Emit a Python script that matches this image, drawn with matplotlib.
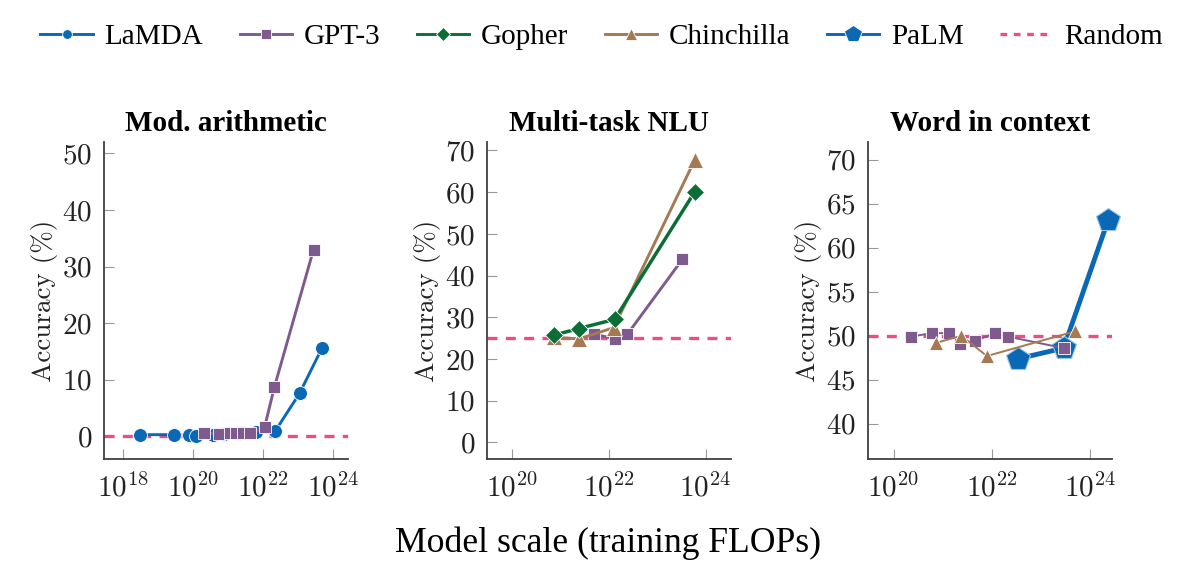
import matplotlib
matplotlib.use('Agg')
import matplotlib.pyplot as plt
from matplotlib.ticker import FixedLocator, LogFormatterMathtext, NullLocator

plt.rcParams['font.family'] = 'cmr10'
plt.rcParams['mathtext.fontset'] = 'cm'
plt.rcParams['axes.unicode_minus'] = False
plt.rcParams['axes.formatter.use_mathtext'] = True

# colours
c_lamda = '#0a68b4'
c_gpt3 = '#7e5a8f'
c_gopher = '#0b6e37'
c_chin = '#a57953'
c_palm = '#0a68b4'
c_rand = '#ef4c85'

# --- Mod. arithmetic ---
arith_lamda_x = [10**18.5, 10**19.45, 10**19.9, 10**20.1, 10**20.57, 10**20.9,
                 10**21.35, 10**21.8, 10**22.35, 10**23.05, 10**23.7]
arith_lamda_y = [0.3, 0.3, 0.2, 0.1, 0.3, 0.4, 0.6, 0.7, 0.9, 7.6, 15.7]
arith_gpt3_x = [10**20.33, 10**20.76, 10**21.05, 10**21.24, 10**21.43, 10**21.62,
                10**22.05, 10**22.33, 10**23.45]
arith_gpt3_y = [0.6, 0.5, 0.6, 0.6, 0.6, 0.6, 1.6, 8.7, 33.0]

# --- Multi-task NLU ---
mmlu_gpt3_x = [10**21.69, 10**22.12, 10**22.38, 10**23.52]
mmlu_gpt3_y = [25.9, 24.9, 25.9, 43.9]
mmlu_gopher_x = [10**20.86, 10**21.38, 10**22.12, 10**23.77]
mmlu_gopher_y = [25.7, 27.3, 29.5, 60.0]
mmlu_chin_x = [10**20.86, 10**21.38, 10**22.1, 10**23.77]
mmlu_chin_y = [25.2, 24.8, 27.5, 67.6]

# --- Word in context ---
wic_gpt3_x = [10**20.35, 10**20.78, 10**21.12, 10**21.35, 10**21.65, 10**22.06,
              10**22.33, 10**23.46]
wic_gpt3_y = [49.9, 50.3, 50.3, 49.1, 49.4, 50.3, 49.9, 48.6]
wic_chin_x = [10**20.87, 10**21.38, 10**21.9, 10**23.69]
wic_chin_y = [49.2, 50.0, 47.7, 50.5]
wic_palm_x = [10**22.54, 10**23.46, 10**24.37]
wic_palm_y = [47.4, 48.6, 63.2]

rand_levels = [0, 25, 50]
titles = ['Mod. arithmetic', 'Multi-task NLU', 'Word in context']
xlims = [(10**17.46, 10**24.43), (10**19.48, 10**24.52), (10**19.48, 10**24.44)]
ylims = [(-4, 52), (-4, 72), (36, 72)]
yticks = [[0, 10, 20, 30, 40, 50], [0, 10, 20, 30, 40, 50, 60, 70],
          [40, 45, 50, 55, 60, 65, 70]]
xticks = [[1e18, 1e20, 1e22, 1e24], [1e20, 1e22, 1e24], [1e20, 1e22, 1e24]]

fig = plt.figure(figsize=(12.01, 5.70), dpi=100)
lefts = [0.0866, 0.4055, 0.7227]
axes = [fig.add_axes([l, 0.1947, 0.203, 0.556]) for l in lefts]

lw = 2.1
kw = dict(mec='white', mew=0.6, clip_on=False)

ax = axes[0]
ax.plot(arith_lamda_x, arith_lamda_y, '-o', color=c_lamda, lw=lw, ms=10, zorder=3, **kw)
ax.plot(arith_gpt3_x, arith_gpt3_y, '-s', color=c_gpt3, lw=lw, ms=9, zorder=4, **kw)

ax = axes[1]
ax.plot(mmlu_gpt3_x, mmlu_gpt3_y, '-s', color=c_gpt3, lw=lw, ms=9, zorder=3, **kw)
ax.plot(mmlu_chin_x, mmlu_chin_y, '-^', color=c_chin, lw=lw, ms=11, zorder=4, **kw)
ax.plot(mmlu_gopher_x, mmlu_gopher_y, '-D', color=c_gopher, lw=lw + 0.4, ms=9, zorder=5, **kw)

ax = axes[2]
ax.plot(wic_gpt3_x, wic_gpt3_y, '-s', color=c_gpt3, lw=1.4, ms=9, zorder=4, **kw)
ax.plot(wic_chin_x, wic_chin_y, '-^', color=c_chin, lw=1.4, ms=9.5, zorder=4, **kw)
ax.plot(wic_palm_x, wic_palm_y, '-p', color=c_palm, lw=3.5, ms=18, zorder=3,
        mec='#9cc4e6', mew=0.8, clip_on=False)

for i, ax in enumerate(axes):
    ax.axhline(rand_levels[i], color=c_rand, ls=(0, (3, 2.5)), lw=2.4, zorder=2)
    ax.set_xscale('log')
    ax.set_xlim(*xlims[i])
    ax.set_ylim(*ylims[i])
    ax.xaxis.set_major_locator(FixedLocator(xticks[i]))
    ax.xaxis.set_major_formatter(LogFormatterMathtext())
    ax.xaxis.set_minor_locator(NullLocator())
    ax.set_yticks(yticks[i])
    for s in ['top', 'right']:
        ax.spines[s].set_visible(False)
    for s in ['left', 'bottom']:
        ax.spines[s].set_color('#404040')
        ax.spines[s].set_linewidth(1.3)
    ax.tick_params(direction='in', length=7, width=0.8, color='#999999',
                   labelsize=21, labelcolor='#222222', pad=8.5)
    ax.tick_params(axis='x', pad=10)
    ax.set_title(titles[i], fontsize=21, fontweight='bold', family='Liberation Serif', pad=8)
    ax.set_ylabel('Accuracy (%)', fontsize=19.5, color='#222222', labelpad=3)

# legend handles
h = []
h += axes[0].plot([], [], '-o', color=c_lamda, lw=lw, ms=7, label='LaMDA', **kw)
h += axes[0].plot([], [], '-s', color=c_gpt3, lw=lw, ms=7, label='GPT-3', **kw)
h += axes[0].plot([], [], '-D', color=c_gopher, lw=lw, ms=7, label='Gopher', **kw)
h += axes[0].plot([], [], '-^', color=c_chin, lw=lw, ms=9, label='Chinchilla', **kw)
h += axes[0].plot([], [], '-p', color=c_palm, lw=lw, ms=13, label='PaLM', **kw)
h += axes[0].plot([], [], color=c_rand, ls=(0, (2, 2)), lw=2.4, label='Random')
fig.legend(handles=h, loc='center', bbox_to_anchor=(0.501, 0.935), ncol=6,
           frameon=False, prop={'family': 'Liberation Serif', 'size': 21},
           handlelength=1.8, columnspacing=1.25, handletextpad=0.4)

fig.text(0.506, 0.047, 'Model scale (training FLOPs)', ha='center', va='center',
         fontsize=25.7, family='Liberation Serif')

plt.savefig('out.png', dpi=100)
